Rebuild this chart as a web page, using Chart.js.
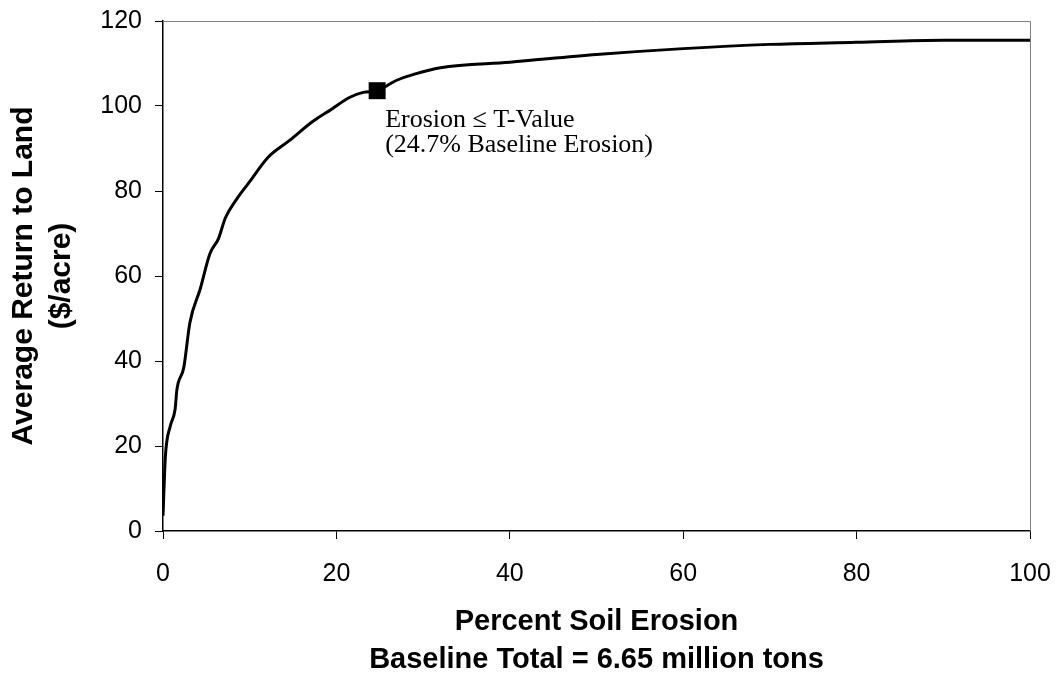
<!DOCTYPE html>
<html>
<head>
<meta charset="utf-8">
<script src="https://cdn.jsdelivr.net/npm/chart.js@4"></script>
<style>
  html, body { margin: 0; padding: 0; background: #fff; }
  #wrap { width: 1057px; height: 679px; }
</style>
</head>
<body>
<div id="wrap"><canvas id="erosionChart" width="1057" height="679"></canvas></div>
<script>
// values
const erosionPct = [0, 0.27, 0.84, 1.4, 1.6, 2.4, 3.1, 4.3, 5.4, 6.4, 7.2, 8.5, 10, 12.1, 14.6, 17.3, 19.4, 21.5, 23.1, 24.7, 26.9, 29, 32, 40, 50, 60, 70, 80, 90, 100];
const returnPerAcre = [3.6, 17.4, 24.7, 28.7, 33.2, 38.5, 49, 57, 65.2, 68.8, 73.7, 78.1, 82.2, 87.9, 91.9, 96.4, 99.2, 102, 103.2, 103.6, 106, 107.5, 109, 110.3, 112.1, 113.5, 114.5, 115, 115.5, 115.5];
const tValueX = [24.7];
const tValueY = [103.6];
const tValueLabel = ['Erosion \u2264 T-Value', '(24.7% Baseline Erosion)'];
const xTitle = ['Percent Soil Erosion', 'Baseline Total = 6.65 million tons'];
const yTitle = ['Average Return to Land', '($/acre)'];

const curvePoints = erosionPct.map((x, i) => ({ x: x, y: returnPerAcre[i] }));
const markerPoints = tValueX.map((x, i) => ({ x: x, y: tValueY[i] }));

const sans = '"Liberation Sans", Arial, sans-serif';

// top/right frame lines of the plot box
const frame = {
  id: 'frame',
  beforeDatasetsDraw(chart) {
    const { ctx, chartArea: a } = chart;
    ctx.save();
    ctx.strokeStyle = '#808080';
    ctx.lineWidth = 1;
    ctx.beginPath();
    ctx.moveTo(a.left, a.top + 0.5);
    ctx.lineTo(a.right + 0.5, a.top + 0.5);
    ctx.lineTo(a.right + 0.5, a.bottom);
    ctx.stroke();
    ctx.restore();
  }
};

// text next to the T-value marker
const markerNote = {
  id: 'markerNote',
  afterDatasetsDraw(chart) {
    const pt = chart.getDatasetMeta(1).data[0];
    if (!pt) return;
    const ctx = chart.ctx;
    ctx.save();
    ctx.fillStyle = '#000';
    ctx.font = '26px "Liberation Serif", "Times New Roman", serif';
    ctx.textAlign = 'left';
    ctx.textBaseline = 'alphabetic';
    ctx.fillText(tValueLabel[0], pt.x + 8, pt.y + 36);
    ctx.fillText(tValueLabel[1], pt.x + 8, pt.y + 61);
    ctx.restore();
  }
};

const ctx = document.getElementById('erosionChart').getContext('2d');
new Chart(ctx, {
  type: 'line',
  data: {
    datasets: [{
      label: 'Return',
      data: curvePoints,
      borderColor: '#000',
      borderWidth: 3,
      pointRadius: 0,
      cubicInterpolationMode: 'monotone',
      fill: false
    }, {
      label: 'T-Value',
      data: markerPoints,
      showLine: false,
      pointStyle: 'rect',
      pointRadius: 12,
      backgroundColor: '#000',
      borderColor: '#000',
      borderWidth: 0
    }]
  },
  options: {
    responsive: false,
    animation: false,
    layout: { padding: { left: 0, right: 27, top: 21, bottom: 0 } },
    plugins: {
      legend: { display: false },
      title: { display: false },
      tooltip: { enabled: false }
    },
    scales: {
      x: {
        type: 'linear',
        min: 0,
        max: 100,
        afterFit: (s) => { s.height = 148; s.paddingLeft = 0; s.paddingRight = 0; },
        ticks: {
          stepSize: 20,
          color: '#000',
          padding: 20,
          font: { family: sans, size: 25 }
        },
        grid: { drawOnChartArea: false, tickLength: 8, color: '#000' },
        border: { color: '#000', width: 1.5 },
        title: {
          display: true,
          text: xTitle,
          color: '#000',
          padding: { top: 0, bottom: 0 },
          font: { family: sans, size: 29, weight: 'bold', lineHeight: 1.31 }
        }
      },
      y: {
        min: 0,
        max: 120,
        afterFit: (s) => { s.width = 163; s.paddingTop = 0; s.paddingBottom = 0; },
        ticks: {
          stepSize: 20,
          color: '#000',
          padding: 13,
          font: { family: sans, size: 25 }
        },
        grid: { drawOnChartArea: false, tickLength: 8, color: '#000' },
        border: { color: '#000', width: 1.5 },
        title: {
          display: true,
          text: yTitle,
          color: '#000',
          padding: { top: 5, bottom: 0 },
          font: { family: sans, size: 30, weight: 'bold', lineHeight: 1.25 }
        }
      }
    }
  },
  plugins: [frame, markerNote]
});
</script>
</body>
</html>
